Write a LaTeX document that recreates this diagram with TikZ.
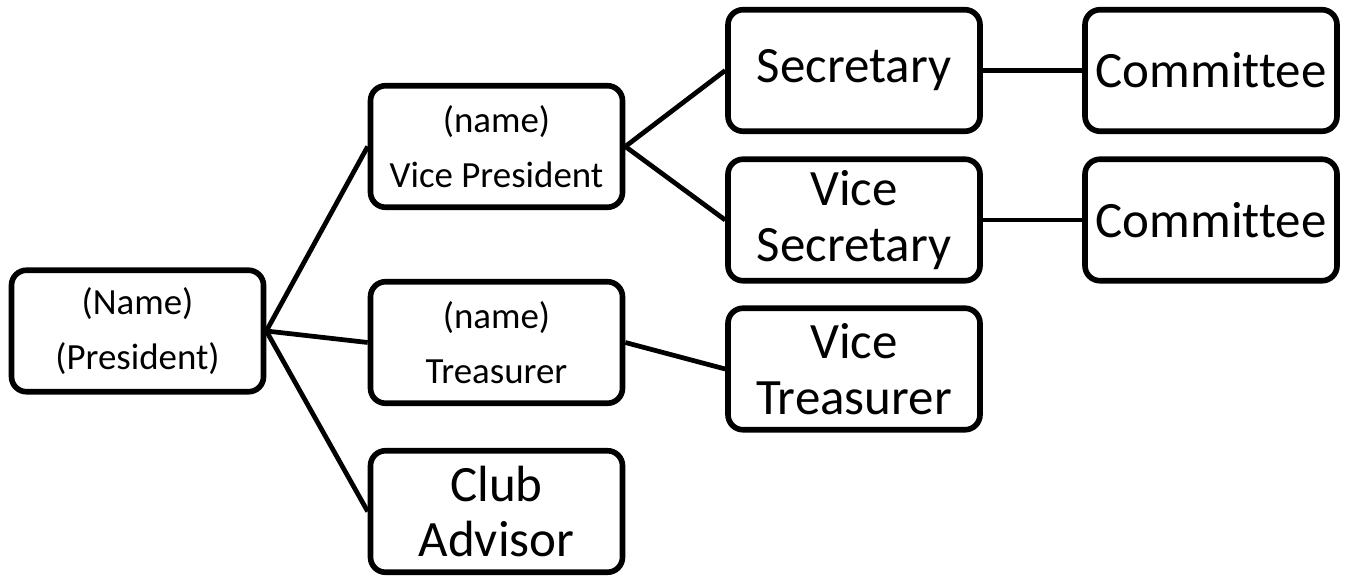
\documentclass[tikz,border=0pt]{standalone}
\usepackage{fontspec}
\setmainfont{Carlito}[Ligatures=NoCommon]

\begin{document}
\begin{tikzpicture}[
    officebox/.style={draw, line width=3.2pt, rounded corners=0.3cm,
        minimum width=5.04cm, minimum height=2.43cm, align=center, inner sep=0pt},
    smalltext/.style={font=\fontsize{21}{31.5}\selectfont},
    bigtext/.style={font=\fontsize{29}{31.5}\selectfont},
    link/.style={line width=2.7pt}
]
    \useasboundingbox (0,0) rectangle (26.94,-11.56);

    % President
    \node[officebox, smalltext] (pres) at (2.75,-6.62) {(Name)\\(President)};

    % Officers
    \node[officebox, smalltext] (vp) at (9.93,-2.93) {(name)\\Vice President};
    \node[officebox, smalltext] (treas) at (9.93,-6.85) {(name)\\Treasurer};
    \node[officebox, bigtext] (advisor) at (9.93,-10.23) {Club\\Advisor};

    % Assistants
    \node[officebox, bigtext] (sec) at (17.08,-1.41) {Secretary};
    \node[officebox, bigtext] (vsec) at (17.08,-4.40) {Vice\\Secretary};
    \node[officebox, bigtext] (vtreas) at (17.08,-7.38) {Vice\\Treasurer};

    % Committees
    \node[officebox, bigtext] (com1) at (24.22,-1.41) {Committee};
    \node[officebox, bigtext] (com2) at (24.22,-4.40) {Committee};

    % Connectors
    \draw[link] (pres.east) -- (vp.west);
    \draw[link] (pres.east) -- (treas.west);
    \draw[link] (pres.east) -- (advisor.west);
    \draw[link] (vp.east) -- (sec.west);
    \draw[link] (vp.east) -- (vsec.west);
    \draw[link] (treas.east) -- (vtreas.west);
    \draw[link] (sec.east) -- (com1.west);
    \draw[link] (vsec.east) -- (com2.west);
\end{tikzpicture}
\end{document}
